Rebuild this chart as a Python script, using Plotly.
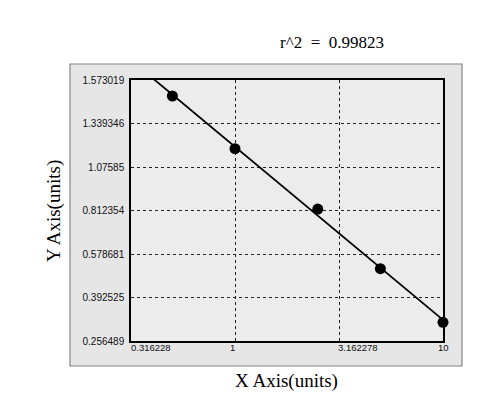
import numpy as np
import plotly.graph_objects as go

# ---- data ----
x_conc = [0.5, 1.0, 2.5, 5.0, 10.0]
y_od = [1.487, 1.187, 0.821, 0.516, 0.315]

x_tick_vals = [0.316228, 1, 3.162278, 10]
x_tick_text = ["0.316228", "1", "3.162278", "10"]
y_tick_vals = [0.256489, 0.392525, 0.578681, 0.812354, 1.07585, 1.339346, 1.573019]
y_tick_text = ["0.256489", "0.392525", "0.578681", "0.812354", "1.07585", "1.339346", "1.573019"]
r2_text = "r^2\u00a0\u00a0=\u00a0\u00a00.99823"

# y axis of the original is evenly spaced between its tick values:
# map values to positions along that axis (piecewise linear between ticks)
y_pos_ticks = np.arange(len(y_tick_vals))
y_pos = np.interp(y_od, y_tick_vals, y_pos_ticks)

# fitted line (straight in log-x vs axis position)
lx = np.log10(x_conc)
b, a = np.polyfit(lx, y_pos, 1)
fit_lx = np.linspace(np.log10(x_tick_vals[0]), np.log10(x_tick_vals[-1]), 50)
fit_x = 10 ** fit_lx
fit_y = a + b * fit_lx

fig = go.Figure()
fig.add_trace(go.Scatter(x=fit_x, y=fit_y, mode="lines",
                         line=dict(color="black", width=1.8), hoverinfo="skip"))
fig.add_trace(go.Scatter(x=x_conc, y=y_pos, mode="markers", cliponaxis=False,
                         marker=dict(color="black", size=11)))

OFF = 8  # page body margin
W, H = 494 - OFF, 398 - OFF
L, R, T, B = 131 - OFF, 443 - OFF, 80 - OFF, 341 - OFF
pw, ph = R - L, B - T

def px(x):
    return (x - OFF - L) / pw

def py(y):
    return (B - (y - OFF)) / ph

shapes = [
    dict(type="rect", xref="paper", yref="paper", layer="below",
         x0=px(70), x1=px(462), y0=py(366), y1=py(64),
         fillcolor="#e6e6e6", line=dict(color="#858585", width=1.2)),
    dict(type="rect", xref="paper", yref="paper", layer="below",
         x0=0, x1=1, y0=0, y1=1,
         fillcolor="#ececec", line=dict(width=0)),
]

serif_family = "Liberation Serif, Times New Roman"
annotations = [
    dict(text=r2_text, xref="paper", yref="paper", x=px(332), y=py(43),
         showarrow=False, font=dict(family=serif_family, size=17, color="black"),
         xanchor="center", yanchor="middle"),
    dict(text="X Axis(units)", xref="paper", yref="paper", x=px(286), y=py(381),
         showarrow=False, font=dict(family=serif_family, size=19, color="black"),
         xanchor="center", yanchor="middle"),
    dict(text="Y Axis(units)", xref="paper", yref="paper", x=px(54), y=py(211),
         textangle=-90, showarrow=False, font=dict(family=serif_family, size=19, color="black"),
         xanchor="center", yanchor="middle"),
]
# x tick labels placed like the original (some left-aligned to their tick)
x_anchor = ["left", "right", "left", "center"]
x_shift = [-1, 1, -2, 0]
for v, t, anc, sh in zip(x_tick_vals, x_tick_text, x_anchor, x_shift):
    annotations.append(dict(text=t, xref="x", yref="paper", x=np.log10(v), y=0,
                            xanchor=anc, yanchor="top", xshift=sh, yshift=0,
                            showarrow=False, borderpad=0,
                            font=dict(family="Liberation Sans, Arial", size=9.5, color="#111")))

fig.update_layout(
    width=W, height=H,
    margin=dict(l=L, r=W - R, t=T, b=H - B, pad=0),
    paper_bgcolor="white",
    plot_bgcolor="#ececec",
    showlegend=False,
    shapes=shapes,
    font=dict(family="Liberation Sans, Arial", size=9, color="#111"),
    annotations=annotations,
)

fig.update_xaxes(type="log", range=[np.log10(x_tick_vals[0]), np.log10(x_tick_vals[-1])],
                 tickmode="array", tickvals=x_tick_vals, ticktext=x_tick_text,
                 showticklabels=False,
                 showgrid=True, gridcolor="#222", griddash="dot", gridwidth=1,
                 showline=True, linecolor="black", linewidth=1.5, mirror=True,
                 ticks="", zeroline=False)
fig.update_yaxes(range=[0, len(y_tick_vals) - 1],
                 tickmode="array", tickvals=list(y_pos_ticks), ticktext=y_tick_text,
                 showgrid=True, gridcolor="#222", griddash="dot", gridwidth=1,
                 showline=True, linecolor="black", linewidth=1.5, mirror=True,
                 ticks="", zeroline=False, ticklabelstandoff=3,
                 tickfont=dict(size=10, color="#111"))

fig.write_html("out.html")
